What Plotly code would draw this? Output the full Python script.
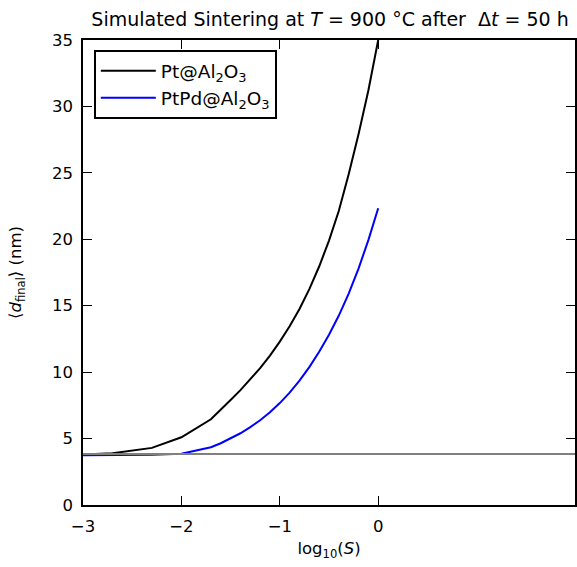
import plotly.graph_objects as go

# x values: log10(S)
log_s = [-3.0, -2.7, -2.3, -2.0, -1.7, -1.6, -1.5, -1.4, -1.3, -1.2, -1.1,
         -1.0, -0.9, -0.8, -0.7, -0.6, -0.5, -0.4, -0.3, -0.2, -0.1, 0.0]

d_pt = [3.8, 3.9, 4.3, 5.1, 6.45, 7.15, 7.9, 8.65, 9.45, 10.3, 11.25,
        12.3, 13.45, 14.75, 16.25, 17.95, 19.9, 22.15, 24.9, 27.9, 31.2, 35.0]

d_ptpd = [3.75, 3.76, 3.78, 3.85, 4.35, 4.65, 5.0, 5.4, 5.86, 6.38, 6.98,
          7.67, 8.46, 9.36, 10.38, 11.53, 12.82, 14.26, 15.91, 17.79, 19.94, 22.34]

d_initial = 3.83

x_ticks = [-3, -2, -1, 0]
x_ticktext = ["\u22123", "\u22122", "\u22121", "0"]
y_ticks = [0, 5, 10, 15, 20, 25, 30, 35]

FONT = "DejaVu Sans"

fig = go.Figure()
fig.add_trace(go.Scatter(x=log_s, y=d_pt, mode="lines",
                         line=dict(color="black", width=2),
                         name="Pt@Al<sub>2</sub>O<sub>3</sub>"))
fig.add_trace(go.Scatter(x=log_s, y=d_ptpd, mode="lines",
                         line=dict(color="#0000ff", width=2),
                         name="PtPd@Al<sub>2</sub>O<sub>3</sub>"))
fig.add_hline(y=d_initial, line=dict(color="#808080", width=2))

axis_common = dict(showline=True, linecolor="black", linewidth=1.5,
                   mirror="ticks", ticks="inside", ticklen=9, tickwidth=1,
                   tickcolor="black", showgrid=False, zeroline=False,
                   automargin=False, ticklabelstandoff=5,
                   tickfont=dict(family=FONT, size=16.5, color="black"))

fig.update_layout(
    width=577, height=567,
    margin=dict(l=83, r=2, t=40, b=62),
    paper_bgcolor="white", plot_bgcolor="white",
    font=dict(family=FONT, size=16.5, color="black"),
    title=dict(text="Simulated Sintering at <i>T</i> = 900 °C after  Δ<i>t</i> = 50 h",
               x=0.572, xanchor="center", y=1 - 19 / 567, yanchor="middle",
               font=dict(family=FONT, size=19, color="black")),
    xaxis=dict(range=[-3, 2], tickvals=x_ticks, ticktext=x_ticktext,
               title=dict(text="log<sub>10</sub>(<i>S</i>)", standoff=8,
                          font=dict(family=FONT, size=16.5)),
               **axis_common),
    yaxis=dict(range=[0, 35], tickvals=y_ticks,
               title=dict(text="\u27e8<i>d</i><sub>final</sub>\u27e9 (nm)", standoff=26,
                          font=dict(family=FONT, size=16.5)),
               **axis_common),
    legend=dict(x=0.022, y=0.978, xanchor="left", yanchor="top",
                bgcolor="white", bordercolor="black", borderwidth=2,
                font=dict(family=FONT, size=18.5), tracegroupgap=2,
                itemwidth=55),
    showlegend=True,
)

fig.write_html("out.html", config={"displayModeBar": False},
               post_script="document.body.style.margin='0';document.body.style.overflow='hidden';")
